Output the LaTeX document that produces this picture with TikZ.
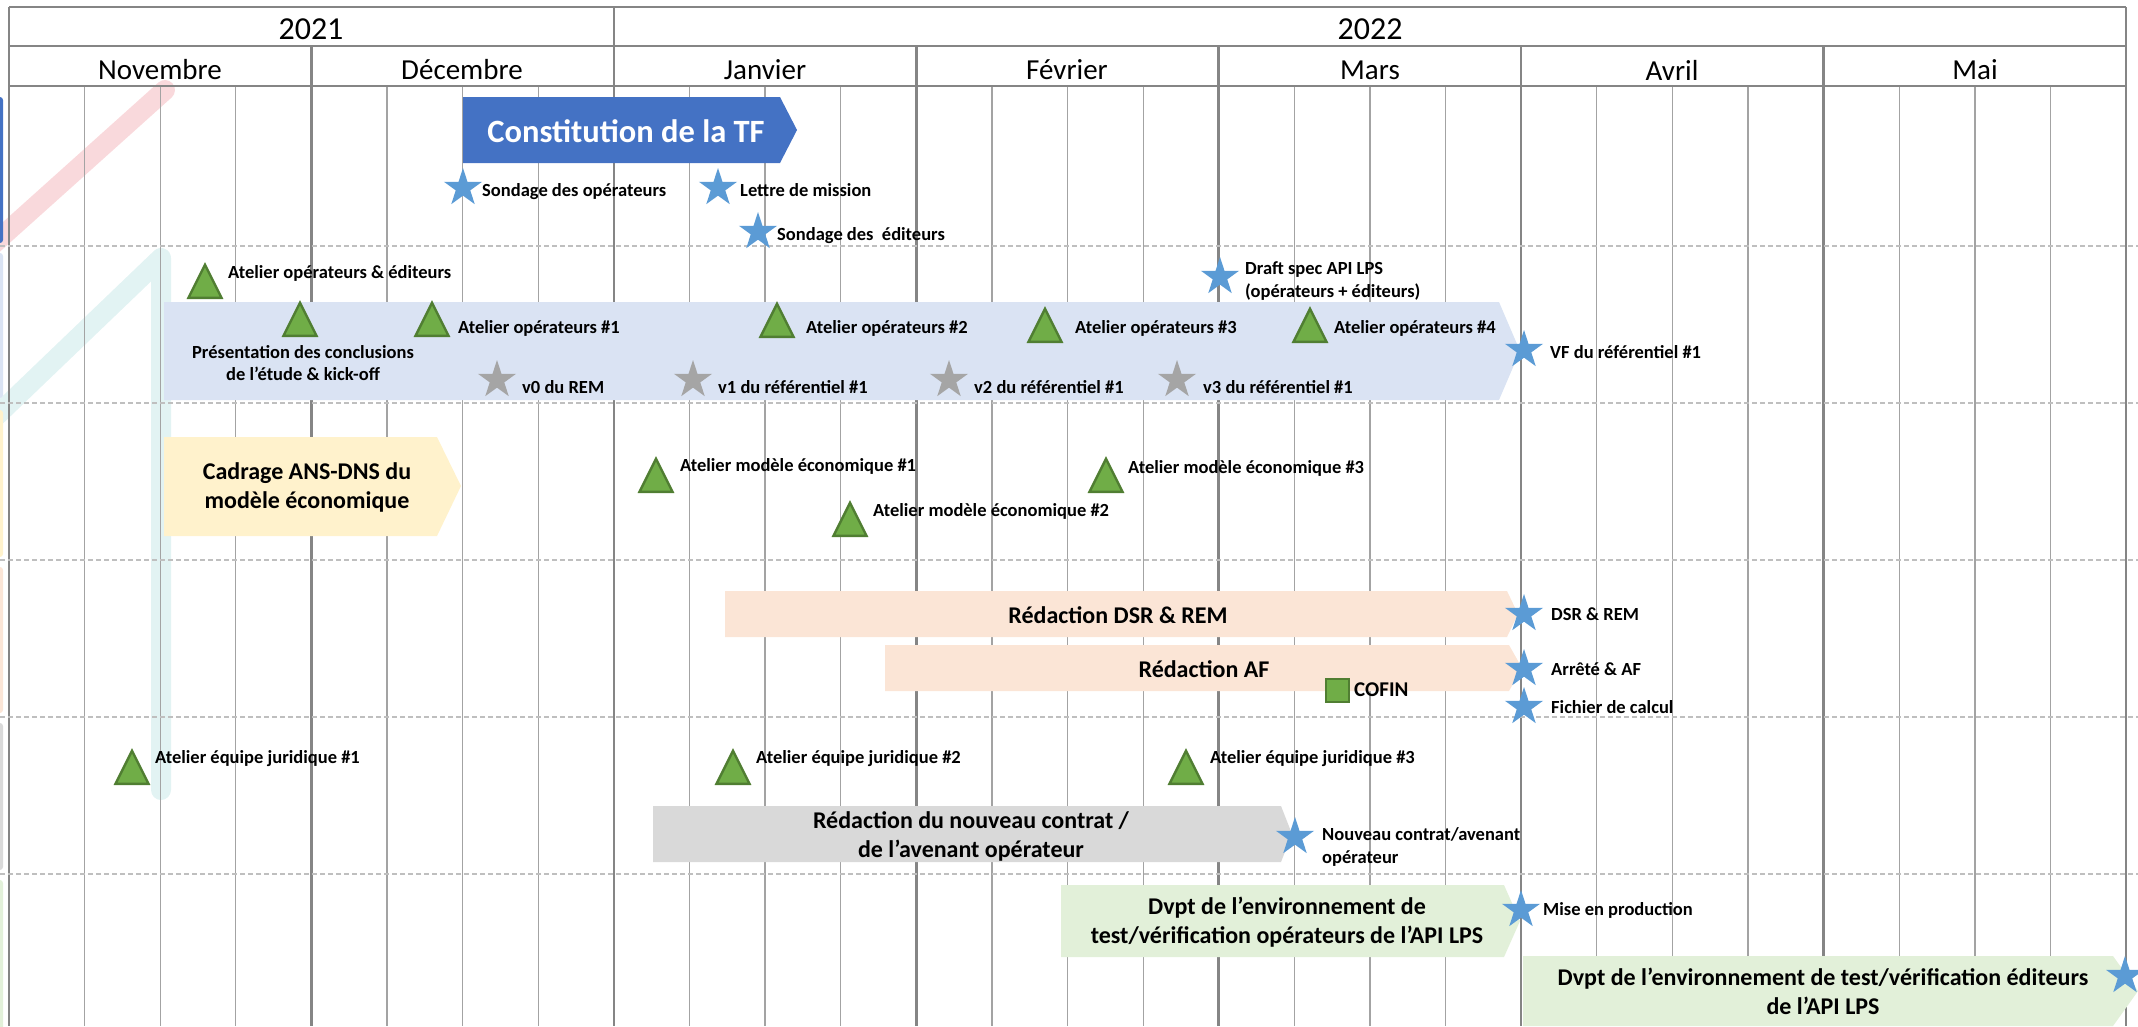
\documentclass[tikz,border=0pt]{standalone}
\usepackage{fontspec}
\setmainfont{Carlito}
\usetikzlibrary{shapes.geometric}

\definecolor{bleuTF}{HTML}{4472C4}
\definecolor{lavande}{HTML}{DAE3F3}
\definecolor{jaune}{HTML}{FFF2CC}
\definecolor{peche}{HTML}{FBE5D6}
\definecolor{grisbarre}{HTML}{D9D9D9}
\definecolor{vertclair}{HTML}{E2F0D9}
\definecolor{bleujalon}{HTML}{5B9BD5}
\definecolor{grisversion}{HTML}{A5A5A5}
\definecolor{vertatelier}{HTML}{70AD47}
\definecolor{vertbord}{HTML}{507E32}
\definecolor{grisgrille}{HTML}{A3A3A3}
\definecolor{grismois}{HTML}{858585}
\definecolor{grispointille}{HTML}{BFBFBF}
\definecolor{roseflou}{HTML}{F9D9DC}
\definecolor{turquoiseflou}{HTML}{E2F3F3}

\tikzset{
    semaine/.style   = {draw=grisgrille, line width=1.3pt},
    moisligne/.style = {draw=grismois, line width=2.6pt},
    rangee/.style    = {draw=grispointille, line width=1.3pt, dash pattern=on 5pt off 3pt},
    jalon/.style     = {star, star points=5, star point ratio=2.618, fill=bleujalon,
                        minimum size=40pt, inner sep=0pt},
    version/.style   = {jalon, fill=grisversion},
    atelier/.style   = {isosceles triangle, isosceles triangle stretches, shape border rotate=90,
                        minimum width=33pt, minimum height=33pt, inner sep=0pt,
                        fill=vertatelier, draw=vertbord, line width=2.4pt, anchor=lower side},
    etiquette/.style = {anchor=west, inner sep=0pt, align=left,
                        font=\fontsize{18.5}{22.5}\selectfont\bfseries},
    phase/.style     = {inner sep=0pt, align=center, font=\fontsize{24}{29}\selectfont\bfseries},
    annee/.style     = {inner sep=0pt, font=\fontsize{32}{36}\selectfont},
    moisnom/.style   = {inner sep=0pt, font=\fontsize{29}{34}\selectfont},
}

\begin{document}
\begin{tikzpicture}[x=1pt, y=-1pt]
        \useasboundingbox (0,0) rectangle (2138,1026);
        \clip (0,0) rectangle (2138,1026);

        % ---------------------------------------------------------------------------
        % Background marks and left edge
        % ---------------------------------------------------------------------------
        \draw[roseflou, line width=20pt, line cap=round]      (-60,292) -- (165,90);
        \draw[turquoiseflou, line width=20pt, line cap=round, line join=round]
                (-60,470) -- (161,258) -- (161,790);

        \fill[bleuTF, rounded corners=3pt]      (-20,97)  rectangle (3,243);
        \fill[lavande, rounded corners=3pt]     (-20,253) rectangle (3,398);
        \fill[jaune, rounded corners=3pt]       (-20,410) rectangle (3,557);
        \fill[peche, rounded corners=3pt]       (-20,567) rectangle (3,713);
        \fill[grisbarre, rounded corners=3pt]   (-20,723) rectangle (3,870);
        \fill[vertclair, rounded corners=3pt]   (-20,880) rectangle (3,1040);

        % ---------------------------------------------------------------------------
        % Draw grid
        % ---------------------------------------------------------------------------
        \foreach \k in {1,...,27}
            \draw[semaine] ({9+75.61*\k},86) -- ({9+75.61*\k},1026);
        \foreach \m in {1,3,4,5,6}
            \draw[moisligne] ({9+302.43*\m},46) -- ({9+302.43*\m},1026);
        \draw[moisligne] (614,7) -- (614,1026);                              % 2021 | 2022
        \draw[moisligne] (9,7) -- (9,1026);
        \draw[moisligne] (2126,7) -- (2126,1026);
        \draw[moisligne] (9,7) -- (2126,7);
        \draw[moisligne] (9,46) -- (2126,46);
        \draw[moisligne, line width=2pt] (9,86) -- (2126,86);

        \foreach \y in {246,403,560,717,874}
            \draw[rangee] (0,\y) -- (2138,\y);

        \node[annee]   (A2021) at (311,29)  {2021};
        \node[annee]   (A2022) at (1370,29) {2022};

        \node[moisnom] (Nov)  at (160,70)  {Novembre};
        \node[moisnom] (Dec)  at (462,70)  {Décembre};
        \node[moisnom] (Jan)  at (765,70)  {Janvier};
        \node[moisnom] (Fev)  at (1067,70) {Février};
        \node[moisnom] (Mar)  at (1370,70) {Mars};
        \node[moisnom] (Avr)  at (1672,70) {Avril};
        \node[moisnom] (Mai)  at (1975,70) {Mai};

        % ---------------------------------------------------------------------------
        % Draw phases
        % ---------------------------------------------------------------------------
        \fill[bleuTF]    (463,97)   -- (780,97)   -- (797,130)  -- (780,163)  -- (463,163)  -- cycle;
        \fill[lavande]   (164,302)  -- (1499,302) -- (1520,351) -- (1499,400) -- (164,400)  -- cycle;
        \fill[jaune]     (164,437)  -- (437,437)  -- (461,486)  -- (437,536)  -- (164,536)  -- cycle;
        \fill[peche]     (725,591)  -- (1507,591) -- (1518,614) -- (1507,637) -- (725,637)  -- cycle;
        \fill[peche]     (885,645)  -- (1509,645) -- (1522,668) -- (1509,691) -- (885,691)  -- cycle;
        \fill[grisbarre] (653,806)  -- (1281,806) -- (1292,834) -- (1281,862) -- (653,862)  -- cycle;
        \fill[vertclair] (1061,885) -- (1504,885) -- (1520,921) -- (1504,957) -- (1061,957) -- cycle;
        \fill[vertclair] (1523,956) -- (2113,956) -- (2138,991) -- (2113,1026) -- (1523,1026) -- cycle;

        \node[phase, text=white, font=\fontsize{32.5}{38}\selectfont\bfseries] (TF) at (626,131) {Constitution de la TF};
        \node[phase] (Cadrage)  at (307,487)  {Cadrage ANS-DNS du\\modèle économique};
        \node[phase] (DSR)      at (1118,615) {Rédaction DSR \& REM};
        \node[phase] (AF)       at (1204,669) {Rédaction AF};
        \node[phase] (Contrat)  at (971,836)  {Rédaction du nouveau contrat /\\de l’avenant opérateur};
        \node[phase] (EnvOp)    at (1287,922) {Dvpt de l’environnement de\\test/vérification opérateurs de l’API LPS};
        \node[phase] (EnvEd)    at (1823,991) {Dvpt de l’environnement de test/vérification éditeurs\\de l’API LPS};

        % ---------------------------------------------------------------------------
        % Draw milestones
        % ---------------------------------------------------------------------------
        \node[jalon]   (SondOp)   at (463,188)  {};
        \node[jalon]   (Lettre)   at (718,188)  {};
        \node[jalon]   (SondEd)   at (758,232)  {};
        \node[jalon]   (Draft)    at (1220,277) {};
        \node[jalon]   (VF)       at (1524,350) {};
        \node[jalon]   (JDSR)     at (1524,614) {};
        \node[jalon]   (Arrete)   at (1524,669) {};
        \node[jalon]   (Fichier)  at (1524,707) {};
        \node[jalon]   (Nouveau)  at (1295,837) {};
        \node[jalon]   (Mise)     at (1521,910) {};
        \node[jalon]   (Fin)      at (2125,976) {};

        \node[version] (V0)       at (497,380)  {};
        \node[version] (V1)       at (693,380)  {};
        \node[version] (V2)       at (949,380)  {};
        \node[version] (V3)       at (1177,380) {};

        \node[atelier] (OpEd)     at (205,299)  {};
        \node[atelier] (Pres)     at (300,337)  {};
        \node[atelier] (Op1)      at (432,337)  {};
        \node[atelier] (Op2)      at (777,338)  {};
        \node[atelier] (Op3)      at (1045,343) {};
        \node[atelier] (Op4)      at (1310,343) {};
        \node[atelier] (Mod1)     at (656,493)  {};
        \node[atelier] (Mod2)     at (850,537)  {};
        \node[atelier] (Mod3)     at (1106,493) {};
        \node[atelier] (Jur1)     at (132,785)  {};
        \node[atelier] (Jur2)     at (733,785)  {};
        \node[atelier] (Jur3)     at (1186,785) {};

        \node[  rectangle,
                fill = vertatelier,
                draw = vertbord,
                line width = 2pt,
                minimum size = 23pt,
                inner sep = 0pt]  (Cofin) at (1337,690) {};

        % ---------------------------------------------------------------------------
        % Draw labels
        % ---------------------------------------------------------------------------
        \node[etiquette] (TSondOp)  at (482,192)  {Sondage des opérateurs};
        \node[etiquette] (TLettre)  at (740,190)  {Lettre de mission};
        \node[etiquette] (TSondEd)  at (777,236)  {Sondage des~ éditeurs};
        \node[etiquette] (TDraft)   at (1245,281) {Draft spec API LPS\\(opérateurs + éditeurs)};
        \node[etiquette] (TVF)      at (1550,352) {VF du référentiel \#1};
        \node[etiquette] (TDSR)     at (1551,614) {DSR \& REM};
        \node[etiquette] (TArrete)  at (1551,669) {Arrêté \& AF};
        \node[etiquette] (TFichier) at (1551,707) {Fichier de calcul};
        \node[etiquette] (TNouveau) at (1322,847) {Nouveau contrat/avenant\\opérateur};
        \node[etiquette] (TMise)    at (1543,910) {Mise en production};

        \node[etiquette] (TV0)      at (522,387)  {v0 du REM};
        \node[etiquette] (TV1)      at (718,387)  {v1 du référentiel \#1};
        \node[etiquette] (TV2)      at (974,387)  {v2 du référentiel \#1};
        \node[etiquette] (TV3)      at (1203,387) {v3 du référentiel \#1};

        \node[etiquette] (TOpEd)    at (228,273)  {Atelier opérateurs \& éditeurs};
        \node[etiquette, anchor=center, align=center] (TPres) at (303,363) {Présentation des conclusions\\de l’étude \& kick-off};
        \node[etiquette] (TOp1)     at (458,328)  {Atelier opérateurs \#1};
        \node[etiquette] (TOp2)     at (806,328)  {Atelier opérateurs \#2};
        \node[etiquette] (TOp3)     at (1075,328) {Atelier opérateurs \#3};
        \node[etiquette] (TOp4)     at (1334,328) {Atelier opérateurs \#4};
        \node[etiquette] (TMod1)    at (680,466)  {Atelier modèle économique \#1};
        \node[etiquette] (TMod2)    at (873,511)  {Atelier modèle économique \#2};
        \node[etiquette] (TMod3)    at (1128,468) {Atelier modèle économique \#3};
        \node[etiquette] (TJur1)    at (155,759)  {Atelier équipe juridique \#1};
        \node[etiquette] (TJur2)    at (756,759)  {Atelier équipe juridique \#2};
        \node[etiquette] (TJur3)    at (1210,759) {Atelier équipe juridique \#3};
        \node[etiquette, font=\fontsize{21}{25}\selectfont\bfseries] (TCofin) at (1354,690) {COFIN};

\end{tikzpicture}
\end{document}
